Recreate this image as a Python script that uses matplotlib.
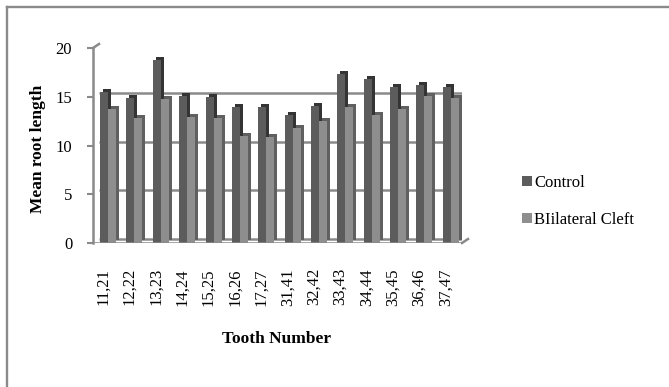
import matplotlib.pyplot as plt
from matplotlib.transforms import ScaledTranslation
from matplotlib.lines import Line2D
import numpy as np

teeth = ["11,21", "12,22", "13,23", "14,24", "15,25", "16,26", "17,27",
         "31,41", "32,42", "33,43", "34,44", "35,45", "36,46", "37,47"]
control = [15.5, 14.9, 18.8, 15.1, 15.0, 14.0, 13.9,
           13.1, 14.1, 17.3, 16.8, 16.0, 16.2, 16.0]
bilateral = [13.7, 12.8, 14.8, 12.9, 12.8, 11.0, 10.9,
             11.8, 12.5, 14.0, 13.1, 13.7, 15.1, 14.9]
yticks = [0, 5, 10, 15, 20]

plt.rcParams["font.family"] = ["Liberation Serif", "DejaVu Serif"]

W, H = 669, 387
fig = plt.figure(figsize=(W / 100, H / 100), dpi=100)

# front plane of the pseudo-3D plot box, in pixels
x0, x1, y0, y1 = 93, 462, 243, 48
ax = fig.add_axes([x0 / W, 1 - y0 / H, (x1 - x0) / W, (y0 - y1) / H])
ax.set_xlim(0, len(teeth))
ax.set_ylim(0, 20)
ax.patch.set_visible(False)

grey = "#8a8a8a"
px = 1 / 100
back = ax.transData + ScaledTranslation(6 * px, 4 * px, fig.dpi_scale_trans)
depth = ax.transData + ScaledTranslation(3 * px, 3 * px, fig.dpi_scale_trans)

# back-wall gridlines
for v in yticks:
    ax.plot([0, len(teeth)], [v, v], color=grey, lw=1.8, transform=back,
            zorder=1, solid_capstyle="butt")
# edges joining the front axis/floor to the back wall
tl = ax.transData.transform([(0, 20)])[0]
fig.add_artist(Line2D([tl[0] / W, (tl[0] + 6) / W], [tl[1] / H, (tl[1] + 4) / H],
                      color=grey, lw=1.8))
br = ax.transData.transform([(len(teeth), 0)])[0]
fig.add_artist(Line2D([br[0] / W, (br[0] + 6) / W], [br[1] / H, (br[1] + 4) / H],
                      color=grey, lw=1.8, zorder=6))

x = np.arange(len(teeth))
w = 8 / 26.36
c_left = x + 0.27
b_left = c_left + w

ax.bar(c_left, control, w, align="edge", color="#343434", transform=depth, zorder=2)
hc = ax.bar(c_left, control, w, align="edge", color="#5c5c5c", zorder=3,
            label="Control")
ax.bar(b_left, bilateral, w, align="edge", color="#606060", transform=depth, zorder=4)
hb = ax.bar(b_left, bilateral, w, align="edge", color="#8e8e8e", zorder=5,
            label="BIilateral Cleft")

# floor front edge
ax.plot([0, len(teeth)], [0, 0], color=grey, lw=1.8, zorder=6,
        solid_capstyle="butt")

for side in ["top", "right", "bottom"]:
    ax.spines[side].set_visible(False)
ax.spines["left"].set_color(grey)
ax.spines["left"].set_linewidth(1.8)
ax.set_yticks(yticks)
ax.tick_params(axis="y", direction="out", length=4, width=1.5, color=grey,
               pad=11, labelsize=12)
ax.set_xticks(x + 0.38)
ax.set_xticklabels(teeth, rotation=90, fontsize=12)
ax.tick_params(axis="x", length=0, pad=18)

fig.text(37.5 / W, 1 - 149 / H, "Mean root length", rotation=90,
         ha="center", va="center", fontsize=12.5, fontweight="bold")
fig.text(277 / W, 1 - 339 / H, "Tooth Number",
         ha="center", va="center", fontsize=12.5, fontweight="bold")

ax.legend(handles=[hc, hb], loc="upper left",
          bbox_to_anchor=(522 / W, 1 - 175 / H), bbox_transform=fig.transFigure,
          frameon=False, fontsize=12, handlelength=0.6, handleheight=0.6,
          handletextpad=0.15, labelspacing=1.25, borderpad=0, borderaxespad=0)

# chart border (top and left edges)
fig.add_artist(Line2D([7 / W, 1], [1 - 7 / H, 1 - 7 / H], color=grey, lw=1.7))
fig.add_artist(Line2D([7 / W, 7 / W], [0, 1 - 7 / H], color=grey, lw=1.7))

fig.savefig("out.png", dpi=100)
